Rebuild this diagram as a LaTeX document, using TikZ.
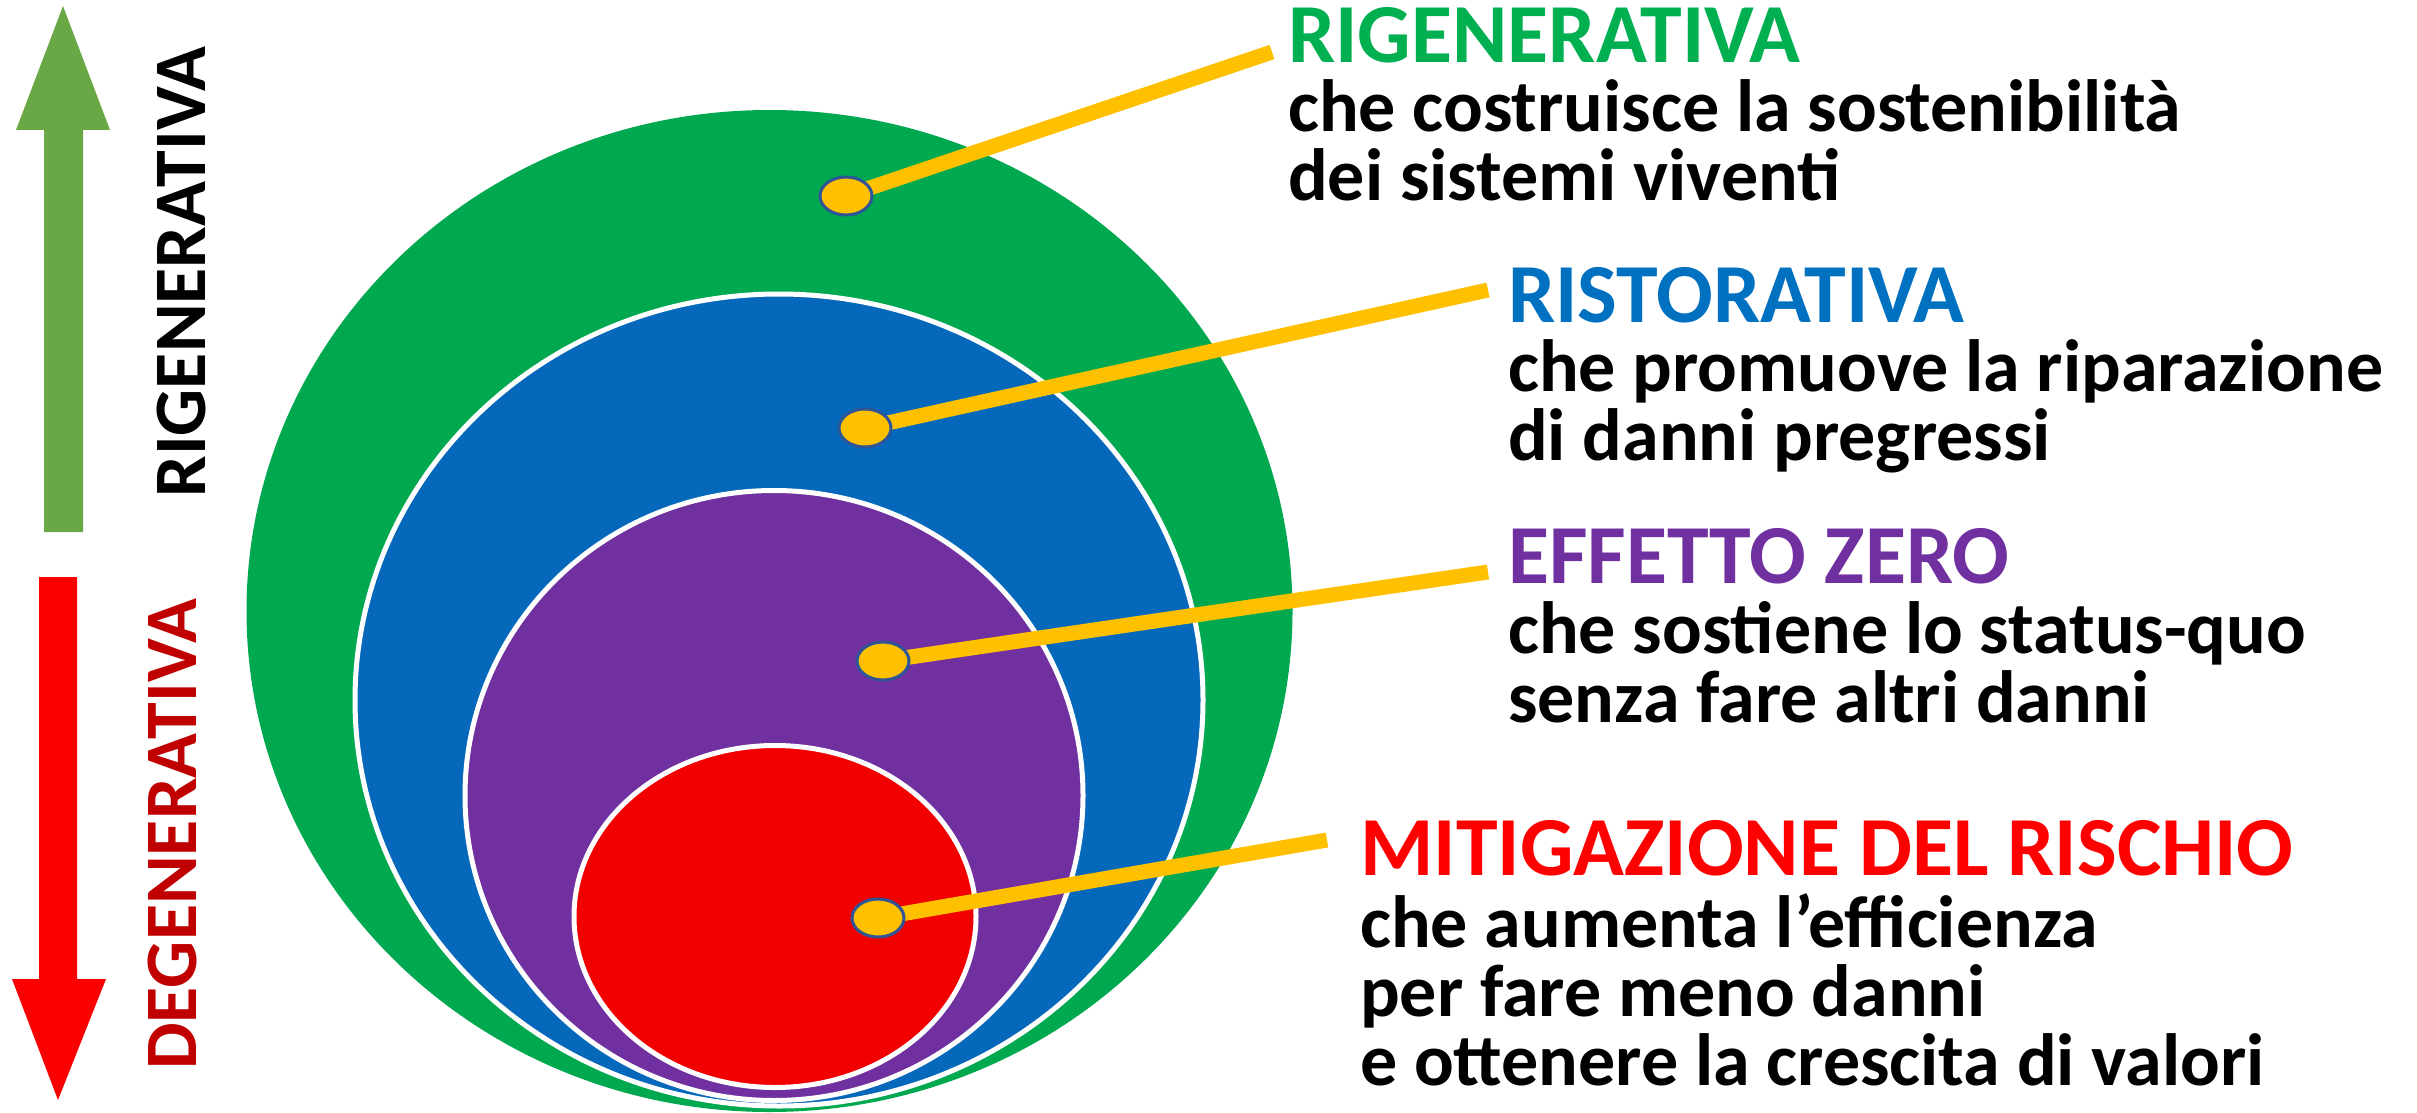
\documentclass[tikz,border=0pt]{standalone}
\usepackage{fontspec}
\setmainfont{Carlito}
\usetikzlibrary{shapes.geometric}
\pgfdeclarelayer{back}
\pgfdeclarelayer{mid}
\pgfsetlayers{back,mid,main}
\definecolor{cgreen}{RGB}{0,168,80}
\definecolor{cblue}{RGB}{5,104,187}
\definecolor{cpurple}{RGB}{112,48,160}
\definecolor{cred}{RGB}{242,0,0}
\definecolor{tgreen}{RGB}{0,176,80}
\definecolor{tblue}{RGB}{0,112,192}
\definecolor{tpurple}{RGB}{112,48,160}
\definecolor{tred}{RGB}{255,0,0}
\definecolor{agreen}{RGB}{106,168,70}
\definecolor{ared}{RGB}{250,0,0}
\definecolor{dred}{RGB}{192,0,0}
\definecolor{cyellow}{RGB}{255,192,0}
\definecolor{dotline}{RGB}{47,85,151}
\tikzset{
  ring/.style={draw=white, line width=5pt},
  leader/.style={draw=cyellow, line width=15pt},
  dot/.style={ellipse, fill=cyellow, draw=dotline, line width=3pt, minimum width=52pt, minimum height=38pt, inner sep=0pt},
  headtext/.style={anchor=base west, inner sep=0pt, font=\fontsize{84pt}{84pt}\selectfont\bfseries},
  bodytext/.style={anchor=base west, inner sep=0pt, align=left, font=\fontsize{74pt}{69pt}\selectfont\bfseries},
  sidetext/.style={rotate=90, inner sep=0pt, font=\fontsize{74pt}{74pt}\selectfont\bfseries},
}
\begin{document}
\begin{tikzpicture}[x=1pt, y=-1pt]
\useasboundingbox (0,0) rectangle (2417,1113);
% nested circles
\begin{pgfonlayer}{back}
\fill[cgreen] (769.5,611) ellipse [x radius=523pt, y radius=501pt];
\filldraw[fill=cblue, ring] (779,700) ellipse [x radius=424pt, y radius=406pt];
\filldraw[fill=cpurple, ring] (774,795.5) ellipse [x radius=309pt, y radius=305pt];
\filldraw[fill=cred, ring] (775,916.5) ellipse [x radius=201pt, y radius=171pt];
\end{pgfonlayer}
% side arrows
\fill[agreen] (63,6) -- (110,130) -- (83,130) -- (83,532) -- (44,532) -- (44,130) -- (16,130) -- cycle;
\fill[ared] (39,577) -- (77,577) -- (77,979) -- (106,979) -- (58,1100) -- (12,979) -- (39,979) -- cycle;
\node[sidetext, text=black] (rigside) at (181,272) {RIGENERATIVA};
\node[sidetext, text=dred] (degside) at (172.5,834) {DEGENERATIVA};
% dots
\node[dot] (d1) at (846,196) {};
\node[dot] (d2) at (865,428) {};
\node[dot] (d3) at (883,661) {};
\node[dot] (d4) at (878,918) {};
% leader ends
\coordinate (e1) at (1272,52);
\coordinate (e2) at (1488,290);
\coordinate (e3) at (1488,572);
\coordinate (e4) at (1327,840);
\begin{pgfonlayer}{mid}
\draw[leader] (d1.center) -- (e1);
\draw[leader] (d2.center) -- (e2);
\draw[leader] (d3.center) -- (e3);
\draw[leader] (d4.center) -- (e4);
\end{pgfonlayer}
% labels
\node[headtext, text=tgreen] (h1) at (1288,63) {RIGENERATIVA};
\node[bodytext] (b1) at (1288,200) {che costruisce la sostenibilità\\dei sistemi viventi};
\node[headtext, text=tblue] (h2) at (1508,322) {RISTORATIVA};
\node[bodytext] (b2) at (1508,460) {che promuove la riparazione\\di danni pregressi};
\node[headtext, text=tpurple] (h3) at (1508,583) {EFFETTO ZERO};
\node[bodytext] (b3) at (1508,722) {che sostiene lo status-quo\\senza fare altri danni};
\node[headtext, text=tred] (h4) at (1360,875) {MITIGAZIONE DEL RISCHIO};
\node[bodytext] (b4) at (1360,1085) {che aumenta l’efficienza\\per fare meno danni\\e ottenere la crescita di valori};
\end{tikzpicture}
\end{document}
